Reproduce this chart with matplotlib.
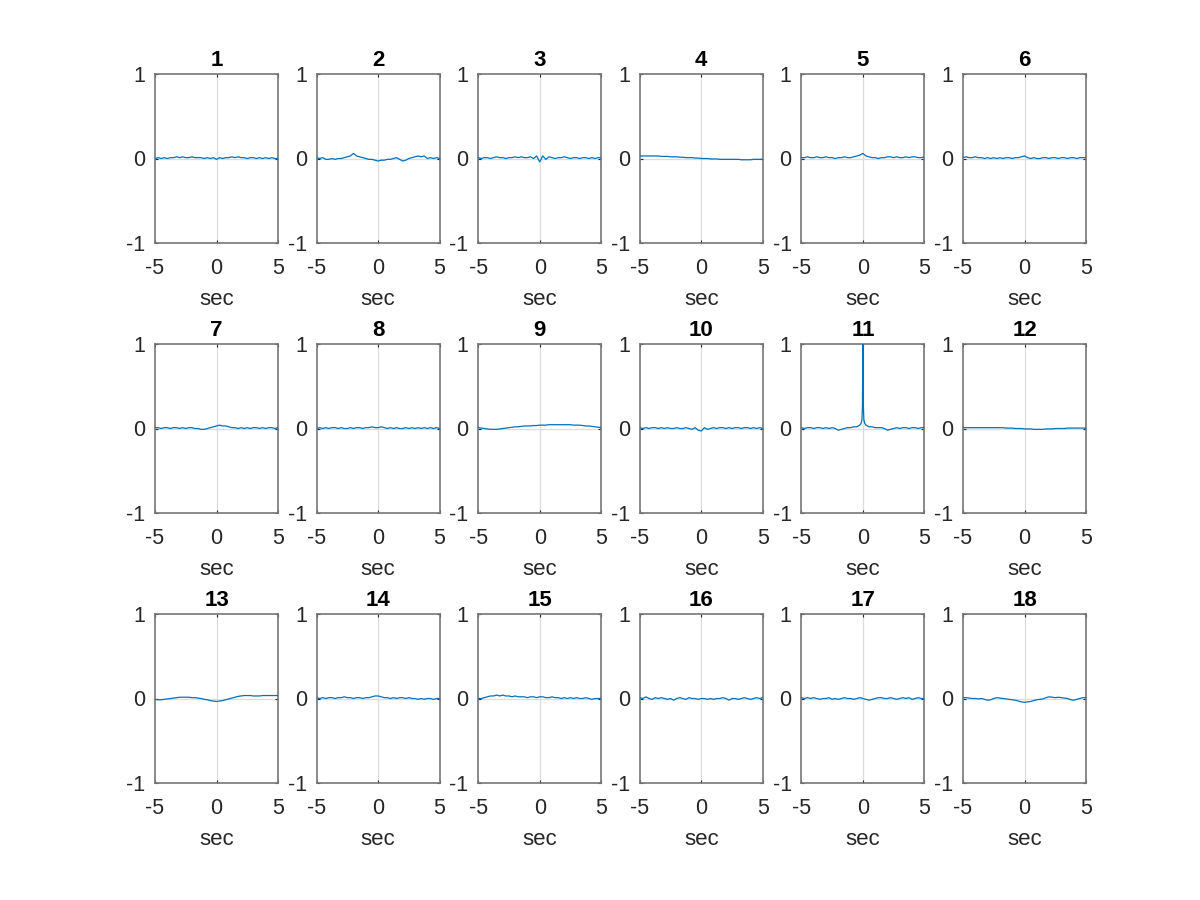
import numpy as np
import matplotlib.pyplot as plt

plt.rcParams['font.family'] = ['Liberation Sans', 'DejaVu Sans']
plt.rcParams['axes.unicode_minus'] = False

# lag axis shared by most panels (seconds)
lags = np.arange(-5, 5.001, 0.25)

corr = {
    1: [0.00, 0.01, 0.00, 0.01, 0.00, 0.01, 0.01, 0.02, 0.01, 0.02, 0.01, 0.01, 0.02, 0.01,
        0.01, 0.01, 0.00, 0.01, 0.00, 0.01, -0.01, 0.01, 0.00, 0.01, 0.01, 0.02, 0.01, 0.02,
        0.01, 0.01, 0.00, 0.01, 0.01, 0.00, 0.01, 0.00, 0.01, 0.00, 0.01, 0.00, 0.00],
    2: [0.01, 0.00, 0.01, -0.01, -0.01, 0.00, -0.01, 0.00, 0.00, 0.01, 0.02, 0.03, 0.06, 0.03,
        0.02, 0.01, 0.00, -0.01, -0.01, -0.02, -0.03, -0.02, -0.02, -0.01, -0.01, 0.00, 0.01,
        -0.01, -0.03, -0.02, 0.00, 0.01, 0.02, 0.03, 0.02, 0.03, 0.00, 0.01, 0.00, 0.01, 0.00],
    3: [0.01, 0.00, 0.01, 0.01, 0.00, 0.01, 0.02, 0.01, 0.01, 0.00, 0.01, 0.01, 0.02, 0.01,
        0.02, 0.01, 0.01, 0.02, 0.00, 0.03, -0.04, 0.03, -0.01, 0.02, 0.01, 0.00, 0.01, 0.01,
        0.02, 0.01, 0.00, 0.01, 0.01, 0.00, 0.01, 0.01, 0.00, 0.01, 0.00, 0.01, 0.01],
    4: [0.03, 0.03, 0.03, 0.03, 0.03, 0.03, 0.03, 0.025, 0.025, 0.025, 0.02, 0.02, 0.02, 0.015,
        0.015, 0.01, 0.01, 0.01, 0.005, 0.005, 0.00, 0.00, 0.00, -0.005, -0.005, -0.005, -0.01,
        -0.01, -0.01, -0.01, -0.01, -0.01, -0.01, -0.015, -0.015, -0.015, -0.015, -0.01, -0.01,
        -0.01, -0.01],
    5: [0.01, 0.01, 0.02, 0.01, 0.01, 0.02, 0.01, 0.01, 0.02, 0.01, 0.01, 0.00, 0.01, 0.01,
        0.02, 0.01, 0.01, 0.02, 0.03, 0.04, 0.06, 0.03, 0.02, 0.01, 0.01, 0.00, 0.01, 0.01,
        0.02, 0.02, 0.01, 0.02, 0.01, 0.01, 0.02, 0.01, 0.02, 0.02, 0.01, 0.01, 0.02],
    6: [0.01, 0.02, 0.01, 0.01, 0.02, 0.01, 0.01, 0.00, 0.01, 0.00, 0.01, 0.00, 0.01, 0.00,
        0.01, 0.01, 0.00, 0.01, 0.01, 0.02, 0.03, 0.01, 0.00, 0.01, 0.00, 0.00, 0.01, 0.01,
        0.00, 0.01, 0.01, 0.00, 0.01, 0.01, 0.00, 0.01, 0.01, 0.00, 0.01, 0.01, 0.01],
    7: [0.01, 0.01, 0.00, 0.01, 0.01, 0.00, 0.01, 0.01, 0.00, 0.01, 0.00, 0.01, 0.01, 0.00,
        0.00, -0.01, -0.01, 0.00, 0.01, 0.02, 0.03, 0.04, 0.03, 0.03, 0.02, 0.01, 0.01, 0.00,
        0.01, 0.00, 0.01, 0.00, 0.01, 0.01, 0.00, 0.01, 0.00, 0.01, 0.01, 0.00, 0.01],
    8: [0.00, 0.01, 0.00, 0.01, 0.00, 0.01, 0.01, 0.00, 0.01, 0.00, 0.00, 0.01, 0.00, 0.01,
        0.01, 0.00, 0.01, 0.01, 0.02, 0.01, 0.01, 0.02, 0.01, 0.00, 0.01, 0.00, 0.01, 0.00,
        0.00, 0.01, 0.00, 0.01, 0.00, 0.01, 0.00, 0.01, 0.00, 0.01, 0.00, 0.01, 0.00],
    9: [0.01, 0.005, 0.00, -0.005, -0.01, -0.01, -0.01, -0.005, 0.00, 0.005, 0.01, 0.015, 0.02,
        0.02, 0.025, 0.03, 0.03, 0.03, 0.035, 0.035, 0.04, 0.04, 0.04, 0.045, 0.045, 0.045,
        0.045, 0.045, 0.045, 0.045, 0.045, 0.04, 0.04, 0.04, 0.035, 0.03, 0.03, 0.025, 0.02,
        0.015, 0.01],
    10: [0.01, 0.00, 0.01, 0.00, 0.01, 0.01, 0.00, 0.01, 0.00, 0.01, 0.00, 0.00, 0.01, 0.00,
         0.00, 0.01, 0.00, -0.01, 0.01, -0.02, -0.03, 0.01, -0.01, 0.00, 0.01, 0.00, 0.01, 0.01,
         0.00, 0.01, 0.00, 0.01, 0.01, 0.00, 0.01, 0.01, 0.00, 0.01, 0.00, 0.01, 0.00],
    12: [0.01, 0.01, 0.01, 0.01, 0.01, 0.01, 0.01, 0.01, 0.01, 0.01, 0.01, 0.01, 0.01, 0.01,
         0.005, 0.005, 0.005, 0.00, 0.00, 0.00, -0.005, -0.005, -0.005, -0.01, -0.01, -0.01,
         -0.01, -0.005, -0.005, -0.005, 0.00, 0.00, 0.00, 0.00, 0.005, 0.005, 0.005, 0.005,
         0.005, 0.005, 0.005],
    13: [-0.01, -0.015, -0.015, -0.01, -0.005, 0.00, 0.005, 0.01, 0.015, 0.015, 0.015, 0.015,
         0.01, 0.01, 0.005, 0.00, -0.01, -0.015, -0.025, -0.03, -0.035, -0.03, -0.025, -0.015,
         -0.005, 0.005, 0.015, 0.025, 0.03, 0.035, 0.035, 0.035, 0.03, 0.03, 0.03, 0.035, 0.035,
         0.035, 0.035, 0.035, 0.035],
    14: [0.01, 0.00, 0.01, 0.00, 0.01, 0.01, 0.00, 0.01, 0.01, 0.02, 0.01, 0.01, 0.00, 0.01,
         0.01, 0.00, 0.01, 0.01, 0.02, 0.03, 0.03, 0.02, 0.01, 0.01, 0.00, 0.01, 0.00, 0.01,
         0.01, 0.00, 0.01, 0.00, 0.00, -0.01, 0.00, -0.01, 0.00, 0.00, -0.01, 0.00, 0.00],
    15: [0.00, 0.00, 0.01, 0.02, 0.03, 0.03, 0.04, 0.03, 0.04, 0.03, 0.03, 0.02, 0.03, 0.02,
         0.02, 0.02, 0.01, 0.02, 0.02, 0.01, 0.02, 0.02, 0.01, 0.01, 0.02, 0.01, 0.01, 0.00,
         0.01, 0.00, 0.01, 0.00, 0.01, 0.00, 0.00, 0.01, 0.00, -0.01, 0.00, 0.00, 0.00],
    16: [0.01, 0.00, 0.02, 0.00, -0.01, 0.01, 0.00, 0.01, 0.00, -0.01, 0.00, -0.02, 0.00, 0.01,
         0.00, -0.01, 0.01, 0.00, 0.00, -0.01, 0.00, 0.00, -0.01, 0.00, -0.01, 0.00, 0.00, 0.01,
         0.00, -0.02, 0.00, 0.00, -0.01, 0.00, 0.01, 0.00, -0.01, 0.00, 0.01, 0.00, 0.01],
    17: [0.01, 0.00, 0.01, 0.00, 0.01, 0.00, -0.01, 0.00, 0.00, 0.01, -0.01, 0.00, -0.01, 0.00,
         0.01, 0.00, 0.00, -0.01, 0.00, 0.01, 0.00, -0.01, -0.02, -0.01, 0.00, 0.01, 0.01, 0.00,
         0.00, 0.01, 0.00, -0.01, 0.00, 0.01, 0.00, 0.01, -0.01, 0.00, 0.01, 0.00, 0.00],
    18: [0.01, 0.01, 0.005, 0.00, 0.00, -0.005, 0.00, -0.01, -0.02, -0.015, 0.00, 0.01, 0.005,
         0.00, -0.005, -0.01, -0.015, -0.02, -0.03, -0.04, -0.045, -0.04, -0.035, -0.025, -0.015,
         -0.01, -0.005, 0.01, 0.02, 0.015, 0.01, 0.015, 0.01, 0.005, 0.00, -0.015, -0.02, -0.01,
         0.00, 0.01, 0.01],
}

# panel 11 has a sharp peak at zero lag, so it gets finer lags near zero
lags_11 = [-5.0, -4.75, -4.5, -4.25, -4.0, -3.75, -3.5, -3.25, -3.0, -2.75, -2.5, -2.25,
           -2.0, -1.75, -1.5, -1.25, -1.0, -0.75, -0.5, -0.25, -0.15, -0.08, -0.04, 0.0,
           0.04, 0.08, 0.15, 0.25, 0.5, 0.75, 1.0, 1.25, 1.5, 1.75, 2.0, 2.25, 2.5, 2.75,
           3.0, 3.25, 3.5, 3.75, 4.0, 4.25, 4.5, 4.75, 5.0]
corr_11 = [0.01, 0.00, 0.01, 0.01, 0.00, 0.01, 0.01, 0.00, 0.01, 0.00, 0.01, 0.00,
           -0.02, -0.01, 0.00, 0.01, 0.01, 0.02, 0.02, 0.04, 0.06, 0.10, 0.25, 1.0,
           0.25, 0.10, 0.06, 0.04, 0.02, 0.02, 0.01, 0.01, 0.01, 0.00, -0.02, -0.01,
           0.00, 0.01, 0.00, 0.01, 0.01, 0.00, 0.01, 0.01, 0.00, 0.01, 0.01]

fig = plt.figure(figsize=(12, 9), dpi=100)

left0, width, xstep = 155 / 1200, 123 / 1200, 161.6 / 1200
bottoms = [1 - 243 / 900, 1 - 513 / 900, 1 - 783 / 900]
height = 169 / 900

for k in range(1, 19):
    r, c = (k - 1) // 6, (k - 1) % 6
    ax = fig.add_axes([left0 + c * xstep, bottoms[r], width, height])
    if k == 11:
        x, y = lags_11, corr_11
    else:
        x, y = lags, corr[k]
    ax.axvline(0, color='#dcdcdc', lw=0.9, zorder=1)
    ax.axhline(0, color='#dcdcdc', lw=0.9, zorder=1)
    ax.plot(x, y, color='#0072BD', lw=0.9, zorder=3)
    ax.set_xlim(-5, 5)
    ax.set_ylim(-1, 1)
    ax.set_xticks([-5, 0, 5])
    ax.set_yticks([-1, 0, 1])
    ax.tick_params(direction='in', length=2, width=0.8, colors='#262626',
                   labelsize=15.5, top=True, right=True)
    ax.tick_params(axis='x', pad=11)
    ax.tick_params(axis='y', pad=7)
    for s in ax.spines.values():
        s.set_color('#777777')
        s.set_linewidth(1.2)
    ax.set_title(str(k), fontsize=16, fontweight='bold', pad=6)
    ax.set_xlabel('sec', fontsize=16, color='#262626', labelpad=7)

fig.savefig('out.png', dpi=100)
